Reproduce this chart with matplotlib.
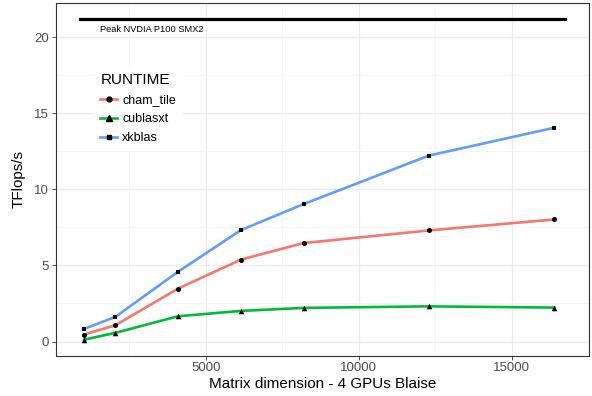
import matplotlib
matplotlib.use("Agg")
import matplotlib.pyplot as plt
from matplotlib.ticker import MultipleLocator

plt.rcParams['font.family'] = ['Liberation Sans', 'DejaVu Sans']

sizes = [1024, 2048, 4096, 6144, 8192, 12288, 16384]
cham_tile = [0.46, 1.07, 3.48, 5.38, 6.47, 7.30, 8.02]
cublasxt = [0.12, 0.57, 1.66, 2.01, 2.21, 2.31, 2.23]
xkblas = [0.83, 1.62, 4.59, 7.32, 9.03, 12.22, 14.05]
series_names = ["cham_tile", "cublasxt", "xkblas"]
peak_value = 21.2
peak_range = [900, 16720]
peak_label = "Peak NVDIA P100 SMX2"

fig = plt.figure(figsize=(5.92, 3.96), dpi=100)
ax = fig.add_axes([56/592, 1-355.5/396, (589-56)/592, (355.5-3)/396])

colors = ["#F8766D", "#00BA38", "#619CFF"]
markers = ["o", "^", "s"]
msizes = [13, 16, 9]
lsizes = [3.5, 3.8, 3.0]
data = [cham_tile, cublasxt, xkblas]
handles = []
for name, vals, c, m, ms, ls in zip(series_names, data, colors, markers, msizes, lsizes):
    ax.plot(sizes, vals, color=c, lw=1.9, zorder=3)
    ax.scatter(sizes, vals, color="black", marker=m, s=ms, zorder=4, linewidths=0)
    h, = ax.plot([], [], color=c, lw=1.9, marker=m, markersize=ls,
                 markerfacecolor="black", markeredgecolor="black", label=name)
    handles.append(h)

ax.plot(peak_range, [peak_value, peak_value], color="black", lw=2.3, zorder=3)
ax.text(peak_range[0] + 650, peak_value - 0.68, peak_label, fontsize=6.7,
        ha="left", va="center", color="black")

ax.set_xlim(105, 17520)
ax.set_ylim(-0.92, 22.25)
ax.xaxis.set_major_locator(MultipleLocator(5000))
ax.xaxis.set_minor_locator(MultipleLocator(2500))
ax.yaxis.set_major_locator(MultipleLocator(5))
ax.yaxis.set_minor_locator(MultipleLocator(2.5))
ax.grid(True, which="major", color="#EBEBEB", lw=0.9, zorder=0)
ax.grid(True, which="minor", color="#F2F2F2", lw=0.5, zorder=0)
ax.set_axisbelow(True)
for s in ax.spines.values():
    s.set_color("#333333")
    s.set_linewidth(0.8)
ax.tick_params(which="major", length=3, width=0.6, color="#333333",
               labelsize=9.5, labelcolor="#4D4D4D", pad=2)
ax.tick_params(which="minor", length=0)

ax.set_xlabel("Matrix dimension - 4 GPUs Blaise", fontsize=11, labelpad=2)
ax.set_ylabel("TFlops/s", fontsize=11, labelpad=6)

leg = ax.legend(handles=handles, title="RUNTIME", loc="upper left",
                bbox_to_anchor=(0.06, 0.836), frameon=True, fontsize=9,
                title_fontsize=11, handlelength=1.3, handletextpad=0.45,
                labelspacing=0.55, borderpad=0.5, numpoints=1)
leg._legend_box.align = "left"
leg.get_frame().set_edgecolor("white")
leg.get_frame().set_facecolor("white")
leg.get_frame().set_alpha(1)
leg.set_zorder(5)

fig.savefig("out.png", dpi=100)
